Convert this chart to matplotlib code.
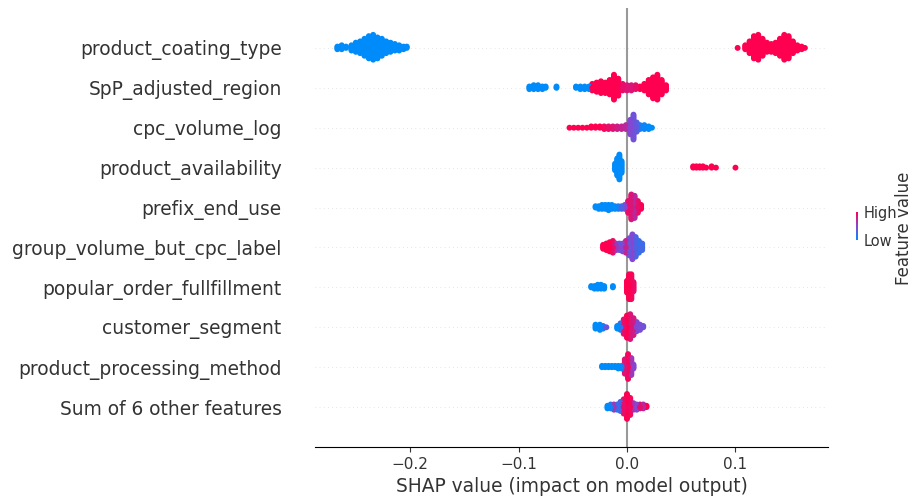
import numpy as np
import matplotlib
matplotlib.use("Agg")
import matplotlib.pyplot as plt
from matplotlib.colors import LinearSegmentedColormap
from matplotlib.cm import ScalarMappable

# feature names, top row first
features = ["product_coating_type", "SpP_adjusted_region", "cpc_volume_log",
            "product_availability", "prefix_end_use", "group_volume_but_cpc_label",
            "popular_order_fullfillment", "customer_segment",
            "product_processing_method", "Sum of 6 other features"]

# each row: shap values, number of samples at that value, feature value (0=low, 1=high)
coating_x = [-0.267, -0.263, -0.259, -0.254, -0.250, -0.246, -0.242, -0.238, -0.234,
             -0.230, -0.226, -0.222, -0.218, -0.214, -0.210, -0.206, -0.203,
             0.102, 0.109, 0.113, 0.117, 0.121, 0.125, 0.129, 0.133, 0.137, 0.141,
             0.145, 0.149, 0.153, 0.157, 0.161, 0.164]
coating_n = [3, 4, 2, 5, 8, 10, 14, 18, 20, 17, 14, 10, 8, 6, 5, 3, 2,
             1, 4, 10, 18, 20, 14, 8, 7, 9, 14, 20, 18, 10, 5, 3, 1]
coating_fv = [0] * 17 + [1] * 16

region_x = [-0.090, -0.086, -0.082, -0.078, -0.075, -0.065, -0.047, -0.043, -0.039, -0.035,
            -0.032, -0.028, -0.024, -0.020, -0.016, -0.012, -0.008, -0.004, 0.000, 0.004,
            0.008, 0.012, 0.016, 0.020, 0.024, 0.028, 0.032, 0.036]
region_n = [3, 4, 4, 3, 2, 2, 2, 3, 3, 3,
            6, 8, 10, 9, 12, 20, 14, 6, 5, 5,
            4, 3, 6, 12, 17, 20, 12, 5]
region_fv = [0] * 10 + [1, 1, 1, 1, 1, 1, 1, 0.9, 0.85, 0.85,
                        0.9, 1, 1, 1, 1, 1, 1, 1]

cpc_x = [-0.053, -0.049, -0.045, -0.041, -0.037, -0.033, -0.029, -0.025, -0.021, -0.017,
         -0.013, -0.009, -0.005, -0.001, 0.003, 0.006, 0.009, 0.012, 0.016, 0.020, 0.023]
cpc_n = [1, 1, 1, 1, 1, 2, 2, 2, 3, 3, 3, 3, 3, 4, 12, 20, 8, 4, 4, 3, 1]
cpc_fv = [1, 1, 1, 1, 1, 1, 1, 1, 0.95, 0.9, 0.85, 0.8, 0.75, 0.7,
          0.5, 0.42, 0.35, 0.1, 0.05, 0, 0]

avail_x = [-0.011, -0.009, -0.007, -0.005, 0.061, 0.064, 0.067, 0.070, 0.073, 0.078, 0.082, 0.100]
avail_n = [6, 14, 20, 10, 2, 2, 2, 2, 1, 2, 1, 1]
avail_fv = [0, 0, 0, 0, 1, 1, 1, 1, 1, 1, 1, 1]

prefix_x = [-0.029, -0.026, -0.023, -0.020, -0.017, -0.014, -0.011, -0.008, -0.005, -0.002,
            0.001, 0.004, 0.007, 0.010, 0.013]
prefix_n = [2, 3, 4, 4, 5, 4, 3, 3, 3, 4, 10, 20, 18, 10, 4]
prefix_fv = [0, 0, 0, 0, 0, 0, 0, 0.1, 0.3, 0.5, 0.9, 0.85, 0.7, 0.9, 1]

group_x = [-0.022, -0.019, -0.016, -0.013, -0.010, -0.007, -0.004, -0.001, 0.002, 0.005,
           0.008, 0.011, 0.014]
group_n = [4, 6, 8, 10, 6, 6, 7, 10, 14, 20, 16, 10, 6]
group_fv = [1, 1, 1, 0.9, 0.6, 0.4, 0.5, 0.75, 0.4, 0.5, 0.3, 0.2, 0.25]

popular_x = [-0.033, -0.030, -0.027, -0.024, -0.021, -0.013, 0.000, 0.002, 0.004, 0.006]
popular_n = [2, 3, 4, 4, 3, 2, 10, 20, 20, 8]
popular_fv = [0, 0, 0, 0, 0, 0, 1, 1, 0.95, 0.9]

segment_x = [-0.029, -0.025, -0.022, -0.019, -0.009, -0.006, -0.003, 0.000, 0.003, 0.006,
             0.009, 0.012, 0.015]
segment_n = [4, 5, 3, 1, 3, 6, 12, 18, 20, 14, 8, 5, 2]
segment_fv = [0, 0, 0.1, 0.4, 0, 0.2, 0.9, 1, 0.85, 0.8, 0.5, 0.45, 0.4]

process_x = [-0.023, -0.020, -0.017, -0.014, -0.011, -0.008, -0.005, -0.002, 0.001, 0.004, 0.006]
process_n = [2, 2, 2, 2, 2, 3, 3, 12, 20, 14, 4]
process_fv = [0, 0, 0, 0, 0, 0, 0.1, 0.85, 0.95, 0.6, 0.5]

other_x = [-0.018, -0.015, -0.012, -0.009, -0.006, -0.003, 0.000, 0.003, 0.006, 0.009,
           0.012, 0.015, 0.018]
other_n = [3, 4, 5, 5, 8, 12, 20, 14, 6, 5, 4, 4, 2]
other_fv = [0, 0.1, 0.6, 0.2, 0.3, 0.9, 1, 0.95, 0.6, 0.5, 0.9, 0.7, 1]

rows = [(coating_x, coating_n, coating_fv), (region_x, region_n, region_fv),
        (cpc_x, cpc_n, cpc_fv), (avail_x, avail_n, avail_fv),
        (prefix_x, prefix_n, prefix_fv), (group_x, group_n, group_fv),
        (popular_x, popular_n, popular_fv), (segment_x, segment_n, segment_fv),
        (process_x, process_n, process_fv), (other_x, other_n, other_fv)]

# shap style red/blue map
red_blue = LinearSegmentedColormap.from_list("red_blue", ["#008bfb", "#8547d2", "#ff0051"])

fig = plt.figure(figsize=(9.14, 4.98), dpi=100)
ax = fig.add_axes([315 / 914, 1 - 447 / 498, (828 - 315) / 914, (447 - 8) / 498])

n_rows = len(features)
row_height = 0.4
for i, (xs, ns, fvs) in enumerate(rows):
    pos = n_rows - 1 - i
    ax.axhline(y=pos, color="#cccccc", lw=0.5, dashes=(1, 5), zorder=-1)
    shaps = np.repeat(xs, ns).astype(float)
    vals = np.repeat(fvs, ns).astype(float)
    # beeswarm: stack points with the same value alternately up and down
    ys = np.zeros(len(shaps))
    k = 0
    for n in ns:
        layer = np.arange(n)
        ys[k:k + n] = np.ceil(layer / 2) * ((layer % 2) * 2 - 1)
        k += n
    ys *= 0.9 * (row_height / np.max(ys + 1))
    order = np.argsort(np.abs(ys))[::-1]
    ax.scatter(shaps[order], pos + ys[order], c=vals[order], cmap=red_blue,
               vmin=0, vmax=1, s=18, linewidth=0, alpha=1, zorder=3)

ax.axvline(x=0, color="#999999", lw=1.5, zorder=-1)

ax.set_xlim(-0.2876, 0.1853)
ax.set_ylim(-1, n_rows)
ax.set_yticks(range(n_rows))
ax.set_yticklabels(features[::-1], fontsize=13.4, color="#333333")
ax.tick_params(axis="y", length=0, pad=24)
ax.set_xticks([-0.2, -0.1, 0.0, 0.1])
ax.tick_params(axis="x", labelsize=11, labelcolor="#333333", color="#333333", pad=4)
ax.set_xlabel("SHAP value (impact on model output)", fontsize=13.4, color="#333333", labelpad=3)
for s in ["top", "right", "left"]:
    ax.spines[s].set_visible(False)

# tiny colour bar, as in the source image
cax = fig.add_axes([856 / 914, 1 - 240 / 498, 2 / 914, 28 / 498])
sm = ScalarMappable(cmap=red_blue)
sm.set_array([0, 1])
cb = fig.colorbar(sm, cax=cax, ticks=[0, 1])
cb.set_ticklabels(["Low", "High"])
cb.ax.tick_params(labelsize=10.5, length=0, pad=4, labelcolor="#333333")
cb.outline.set_visible(False)
fig.text(904 / 914, 1 - 228 / 498, "Feature value", rotation=90, fontsize=12,
         color="#333333", ha="center", va="center")

fig.savefig("out.png", dpi=100)
